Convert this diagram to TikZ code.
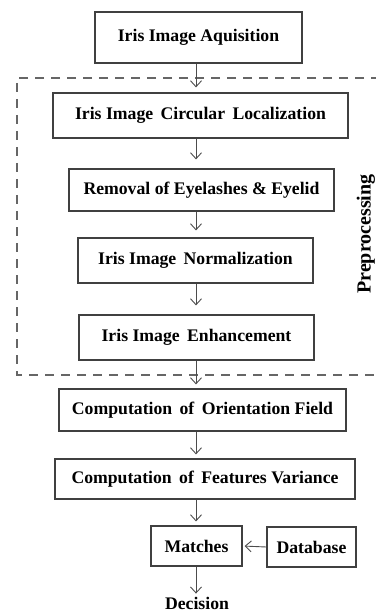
\documentclass[tikz,border=0pt]{standalone}
\usepackage{fontspec}
\setmainfont{Liberation Serif}
\usetikzlibrary{arrows.meta}
\begin{document}
\begin{tikzpicture}[x=1pt,y=-1pt,
  lbl/.style={font=\bfseries\fontsize{17.7}{20}\selectfont},
  box/.style={lbl, draw=black!75, line width=1.2pt, rectangle, inner sep=0pt},
  arr/.style={draw=black!70, line width=0.9pt, -{Straight Barb[length=6pt,width=11pt]}},
  dsh/.style={draw=black!60, line width=1.4pt, dash pattern=on 9pt off 7pt}]
\useasboundingbox (0,0) rectangle (375,612);
\node[box, minimum width=207pt, minimum height=51pt] (b1) at (198.5,37.5) {Iris Image Aquisition};
\node[box, minimum width=295pt, minimum height=45pt] (b2) at (200.5,115.5) {Iris Image\ \,Circular\ \,Localization};
\node[box, minimum width=265pt, minimum height=42pt] (b3) at (201.5,190) {Removal of Eyelashes \& Eyelid};
\node[box, minimum width=235pt, minimum height=45pt] (b4) at (195.5,260.5) {Iris Image\ \,Normalization};
\node[box, minimum width=235pt, minimum height=45pt] (b5) at (196.5,337.5) {Iris Image\ \,Enhancement};
\node[box, minimum width=287pt, minimum height=42pt] (b6) at (202.5,410) {Computation\ \,of\ \,Orientation Field};
\node[box, minimum width=300pt, minimum height=40pt] (b7) at (205,479) {Computation\ \,of\ \,Features Variance};
\node[box, minimum width=91pt, minimum height=40pt] (m) at (196.5,546) {Matches};
\node[box, minimum width=89pt, minimum height=40pt] (db) at (311.5,547) {Database};
\node[lbl, inner sep=0pt] (dec) at (197,603) {Decision};
\node[font=\bfseries\fontsize{20}{22}\selectfont, inner sep=0pt, rotate=90] (pre) at (366,234) {Preprocessing};
\draw[dsh] (380,78) -- (17,78) -- (17,375) -- (380,375);
\coordinate (x) at (196,0);
\draw[arr, shorten >=5pt] (b1.south -| x) -- (b2.north -| x);
\draw[arr, shorten >=9pt] (b2.south -| x) -- (b3.north -| x);
\draw[arr, shorten >=7pt] (b3.south -| x) -- (b4.north -| x);
\draw[arr, shorten >=9pt] (b4.south -| x) -- (b5.north -| x);
\draw[arr, shorten >=4pt] (b5.south -| x) -- (b6.north -| x);
\draw[arr, shorten >=4pt] (b6.south -| x) -- (b7.north -| x);
\draw[arr, shorten >=4pt] (b7.south -| x) -- (m.north -| x);
\draw[arr, shorten >=2pt] (db.west) -- (m.east);
\draw[arr, shorten >=3pt] (m.south -| x) -- (dec.north -| x);
\end{tikzpicture}
\end{document}
